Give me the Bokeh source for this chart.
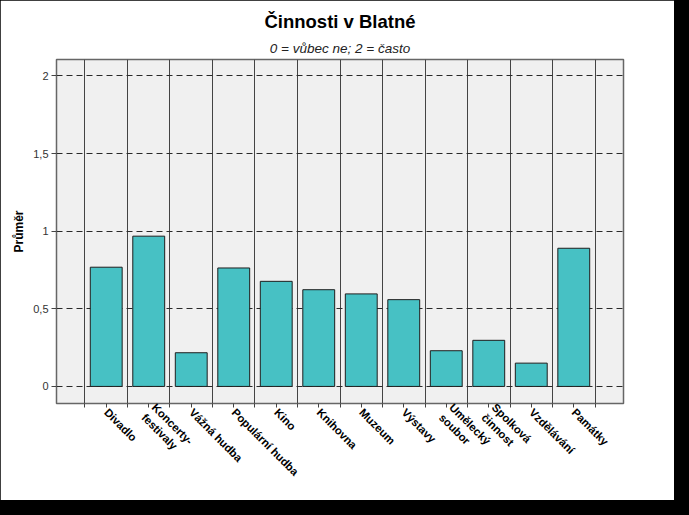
from bokeh.plotting import figure
from bokeh.models import ColumnDataSource, FixedTicker, Range1d, Title
from bokeh.layouts import column
from bokeh.embed import file_html
from bokeh.resources import INLINE

# ---- data ----
categories = ["Divadlo", "Koncerty-\nfestivaly", "Vážná hudba", "Populární hudba", "Kino",
              "Knihovna", "Muzeum", "Výstavy", "Umělecký\nsoubor", "Spolková\nčinnost",
              "Vzdělávání", "Památky"]
means = [0.768, 0.968, 0.217, 0.763, 0.677, 0.623, 0.596, 0.559, 0.230, 0.297, 0.150, 0.890]
y_ticks = [0, 0.5, 1, 1.5, 2]
y_tick_labels = ["0", "0,5", "1", "1,5", "2"]

title_text = "Činnosti v Blatné"
subtitle_text = "0 = vůbec ne; 2 = často"
y_label = "Průměr"

n = len(categories)
xs = list(range(n))
src = ColumnDataSource(dict(x=xs, top=means, name=categories))

p = figure(width=674, height=500, output_backend="svg", toolbar_location=None,
           x_range=Range1d(-1.17, n - 1 + 1.17), y_range=Range1d(-0.11, 2.106),
           min_border_left=56, min_border_right=51, min_border_top=59, min_border_bottom=97)

p.background_fill_color = "#f0f0f0"
p.border_fill_color = "white"
p.outline_line_color = "#666666"
p.outline_line_width = 1.5

# titles
p.title.text = title_text
p.title.align = "center"
p.title.text_font = "Liberation Sans"
p.title.text_font_style = "bold"
p.title.text_font_size = "18.5px"
p.title.text_color = "black"
p.title.standoff = 8
sub_title = Title(text=subtitle_text, align="center", text_font="Liberation Sans",
                  text_font_style="italic", text_font_size="13.5px", text_color="#222222",
                  standoff=7)
p.add_layout(sub_title, "above")

# bars
p.vbar(x="x", top="top", bottom=0, width=0.75, source=src,
       fill_color="#47c1c4", line_color="#1e1e1e", line_width=1)

# y grid dashed
p.ygrid.ticker = FixedTicker(ticks=y_ticks)
p.ygrid.grid_line_color = "#2a2a2a"
p.ygrid.grid_line_dash = "6 4"
p.ygrid.grid_line_width = 1
p.ygrid.level = "underlay"

# x grid = separators between categories
seps = [i - 0.5 for i in range(n + 1)]
p.xgrid.ticker = FixedTicker(ticks=seps)
p.xgrid.grid_line_color = "#444444"
p.xgrid.grid_line_width = 1
p.xgrid.level = "underlay"

# y axis
p.yaxis.ticker = FixedTicker(ticks=y_ticks)
p.yaxis.major_label_overrides = {t: l for t, l in zip(y_ticks, y_tick_labels)}
p.yaxis.major_tick_in = 0
p.yaxis.major_tick_out = 5
p.yaxis.minor_tick_line_color = None
p.yaxis.axis_line_color = "#666666"
p.yaxis.major_tick_line_color = "#444444"
p.yaxis.major_label_text_font = "Liberation Sans"
p.yaxis.major_label_text_font_size = "11px"
p.yaxis.major_label_text_color = "#333333"
p.yaxis.major_label_standoff = 3
p.yaxis.axis_label = y_label
p.yaxis.axis_label_text_font = "Liberation Sans"
p.yaxis.axis_label_text_font_style = "bold"
p.yaxis.axis_label_text_font_size = "12px"
p.yaxis.axis_label_text_color = "black"
p.yaxis.axis_label_standoff = 4

# x axis
p.xaxis.ticker = FixedTicker(ticks=xs, minor_ticks=seps)
p.xaxis.major_label_overrides = {i: c for i, c in zip(xs, categories)}
p.xaxis.major_label_orientation = -0.785398
p.xaxis.major_tick_in = 0
p.xaxis.major_tick_out = 4
p.xaxis.minor_tick_in = 0
p.xaxis.minor_tick_out = 4
p.xaxis.major_tick_line_color = "#444444"
p.xaxis.minor_tick_line_color = "#444444"
p.xaxis.axis_line_color = "#666666"
p.xaxis.major_label_text_font = "Liberation Sans"
p.xaxis.major_label_text_font_style = "bold"
p.xaxis.major_label_text_font_size = "11.3px"
p.xaxis.major_label_text_color = "black"
p.xaxis.major_label_standoff = 3

layout = column(p, width=689, height=515, styles={"background-color": "black"})

open("out.html", "w").write(file_html(layout, INLINE))
